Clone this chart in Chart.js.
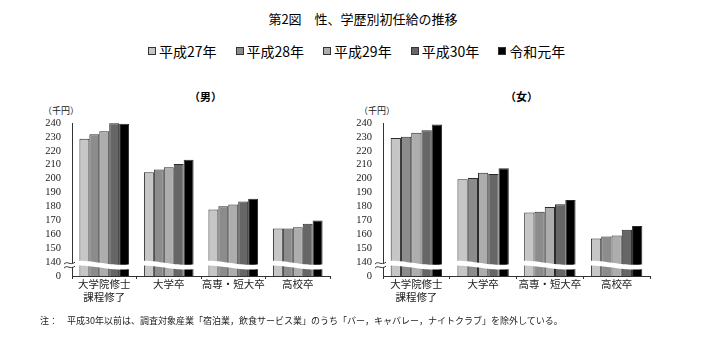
<!DOCTYPE html>
<html>
<head>
<meta charset="utf-8">
<script src="https://cdn.jsdelivr.net/npm/chart.js@4.4.1/dist/chart.umd.min.js"></script>
<style>
  body { margin: 0; width: 726px; height: 350px; background: #fff; position: relative; overflow: hidden;
         font-family: "Noto Sans CJK JP", sans-serif; color: #000; }
  .abs { position: absolute; white-space: nowrap; }
  #title { left: 0; width: 726px; top: 9px; text-align: center; font-size: 13px; }
  #legend { left: 148px; top: 42px; display: flex; gap: 19px; font-size: 14px; line-height: 18px; }
  #legend .item { display: flex; align-items: center; }
  #legend .box { width: 6px; height: 6px; border: 1px solid #333; margin-right: 3px; }
  .sub { top: 88px; font-size: 11px; font-weight: 700; }
  .unit { top: 104px; font-size: 9px; color: #222; }
  #note { left: 40px; top: 314px; font-size: 9px; color: #222; }
  canvas { position: absolute; top: 100px; }
</style>
</head>
<body>
<div id="title" class="abs">第2図　性、学歴別初任給の推移</div>
<div id="legend" class="abs"></div>
<div class="abs sub" style="left:189px">（男）</div>
<div class="abs sub" style="left:505px">（女）</div>
<div class="abs unit" style="left:43px">（千円）</div>
<div class="abs unit" style="left:359px">（千円）</div>
<canvas id="male" width="345" height="215" style="left:0"></canvas>
<canvas id="female" width="381" height="215" style="left:345px"></canvas>
<div id="note" class="abs">注：　平成30年以前は、調査対象産業「宿泊業，飲食サービス業」のうち「バー，キャバレー，ナイトクラブ」を除外している。</div>
<script>
// 初任給 (千円) by education level.
const CATEGORIES = [["大学院修士", "課程修了"], "大学卒", "高専・短大卒", "高校卒"];
const SERIES = ["平成27年", "平成28年", "平成29年", "平成30年", "令和元年"];
const COLORS = ["#c6c6c6", "#8c8c8c", "#adadad", "#666666", "#000000"];

const MALE_H27 = [228.7, 204.6, 177.8, 164.1];
const MALE_H28 = [232.0, 206.5, 180.2, 164.1];
const MALE_H29 = [234.0, 208.2, 181.4, 165.1];
const MALE_H30 = [239.8, 210.6, 183.6, 167.5];
const MALE_R1  = [239.5, 213.5, 185.5, 169.9];

const FEMALE_H27 = [229.2, 199.5, 175.7, 157.0];
const FEMALE_H28 = [230.2, 200.4, 176.2, 158.4];
const FEMALE_H29 = [233.0, 204.3, 179.6, 159.1];
const FEMALE_H30 = [234.7, 203.3, 181.5, 163.2];
const FEMALE_R1  = [239.0, 207.4, 184.6, 165.9];

// broken axis: the bottom tick stands for 0, the rest are real values
const Y_TICKS = [130, 140, 150, 160, 170, 180, 190, 200, 210, 220, 230, 240];
const Y_TICK_LABELS = ["0", "140", "150", "160", "170", "180", "190", "200", "210", "220", "230", "240"];
const Y_MIN = 130, Y_MAX = 240, BREAK_AT = 137.8;

const SERIF = "'Liberation Serif', 'Noto Sans CJK JP', serif";

// legend shared by both panels
document.getElementById("legend").innerHTML = SERIES.map((s, i) =>
  `<span class="item"><span class="box" style="background:${COLORS[i]}"></span>${s}</span>`).join("");

// white wavy cut across each group + "≈" mark on the y axis
const breakPlugin = {
  id: "axisBreak",
  afterDatasetsDraw(chart) {
    const { ctx, chartArea, scales: { y } } = chart;
    const yc = y.getPixelForValue(BREAK_AT);
    const first = chart.getDatasetMeta(0).data;
    const last = chart.getDatasetMeta(chart.data.datasets.length - 1).data;
    const wave = (t) => -2 * Math.cos(1.2 * Math.PI * t);
    ctx.save();
    ctx.fillStyle = "#fff";
    first.forEach((bar, i) => {
      const x0 = bar.x - bar.width / 2 - 1;
      const x1 = last[i].x + last[i].width / 2 + 1;
      const w = x1 - x0, n = 24;
      ctx.beginPath();
      for (let k = 0; k <= n; k++) {
        const t = k / n;
        const yy = yc - 2.4 + wave(t);
        k ? ctx.lineTo(x0 + w * t, yy) : ctx.moveTo(x0 + w * t, yy);
      }
      for (let k = n; k >= 0; k--) {
        const t = k / n;
        ctx.lineTo(x0 + w * t, yc + 2.4 + wave(t));
      }
      ctx.closePath();
      ctx.fill();
    });
    // axis break mark
    const ax = chartArea.left;
    ctx.fillRect(ax - 2, yc - 2, 4, 4);
    ctx.strokeStyle = "#333";
    ctx.lineWidth = 1;
    [-2, 2].forEach((dy) => {
      ctx.beginPath();
      ctx.moveTo(ax - 8, yc + dy + 1);
      ctx.bezierCurveTo(ax - 5, yc + dy - 3, ax - 2, yc + dy + 3, ax + 3, yc + dy - 1);
      ctx.stroke();
    });
    ctx.restore();
  },
};

function makeChart(id, values, yWidth, padRight) {
  return new Chart(document.getElementById(id), {
    type: "bar",
    data: {
      labels: CATEGORIES,
      datasets: SERIES.map((s, i) => ({
        label: s,
        data: values[i],
        base: Y_MIN,
        backgroundColor: COLORS[i],
        borderColor: "#2a2a2a",
        borderWidth: 1,
        barPercentage: 1,
        categoryPercentage: 0.77,
      })),
    },
    options: {
      responsive: false,
      animation: false,
      layout: { padding: { left: 0, right: padRight, top: 23, bottom: 0 } },
      plugins: { legend: { display: false }, tooltip: { enabled: false } },
      scales: {
        x: {
          afterFit: (sc) => { sc.height = 39; },
          grid: { display: true, drawOnChartArea: false, drawTicks: true, tickLength: 3, color: "#333", offset: true },
          border: { display: true, color: "#333", width: 1 },
          ticks: { color: "#222", padding: 0, maxRotation: 0, autoSkip: false,
                   font: { family: SERIF, size: 10.5, lineHeight: 1.25 } },
        },
        y: {
          min: Y_MIN,
          max: Y_MAX,
          afterFit: (sc) => { sc.width = yWidth; },
          afterBuildTicks: (sc) => { sc.ticks = Y_TICKS.map((v) => ({ value: v })); },
          grid: { display: false, drawTicks: false },
          border: { display: true, color: "#333", width: 1 },
          ticks: { color: "#222", padding: 11, autoSkip: false,
                   callback: (v) => Y_TICK_LABELS[Y_TICKS.indexOf(v)],
                   font: { family: SERIF, size: 10.5 } },
        },
      },
    },
    plugins: [breakPlugin],
  });
}

makeChart("male", [MALE_H27, MALE_H28, MALE_H29, MALE_H30, MALE_R1], 72, 15);
makeChart("female", [FEMALE_H27, FEMALE_H28, FEMALE_H29, FEMALE_H30, FEMALE_R1], 38, 76);
</script>
</body>
</html>
